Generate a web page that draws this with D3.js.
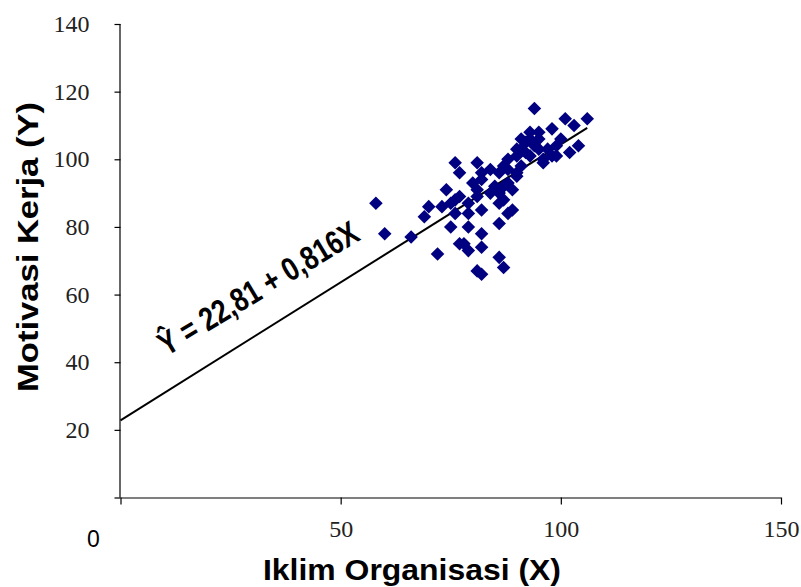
<!DOCTYPE html>
<html>
<head>
<meta charset="utf-8">
<script src="https://cdn.jsdelivr.net/npm/d3@7"></script>
<style>
  body { margin: 0; background: #fff; }
  svg { display: block; }
</style>
</head>
<body>
<script>
// data (Iklim Organisasi X, Motivasi Kerja Y)
var iklimX = [58, 60, 66, 70, 69, 72, 73, 74, 75, 76, 76, 77, 76, 77, 79, 79, 77, 75, 79, 82,
              78, 79, 82, 81, 82, 81, 84, 87, 85, 88, 90, 90, 91, 86, 88, 82, 86, 89, 86, 87,
              81, 82, 80, 82, 81, 84, 86, 87, 86, 87, 89, 90, 88, 88, 91, 93, 96, 98, 99, 90,
              95, 91, 95, 93, 94, 98, 100, 101, 103, 106, 104, 102, 99, 92, 94, 92, 93, 95, 97, 96];
var motivasiY = [87, 78, 77, 86, 83, 72, 86, 91, 80, 88, 84, 75, 99, 96, 84, 87, 89, 87, 80, 78,
                 75, 73, 74, 99, 96, 91, 97, 98, 92, 93, 96, 101, 103, 81, 84, 85, 87, 85, 71, 68,
                 67, 66, 93, 94, 89, 90, 90, 88, 96, 92, 91, 95, 100, 97, 98, 101, 99, 101, 104, 103,
                 103, 106, 106, 108, 115, 109, 106, 112, 110, 112, 104, 102, 101, 105, 104, 102, 106, 108, 103, 100];
var xTicks = [0, 50, 100, 150];
var yTicks = [0, 20, 40, 60, 80, 100, 120, 140];
var intercept = 22.81, slope = 0.816, lineEndX = 106;

var width = 801, height = 587;
var svg = d3.select("body").append("svg")
    .attr("width", width)
    .attr("height", height);

var x = d3.scaleLinear().domain([0, 150]).range([120.5, 781]);
var y = d3.scaleLinear().domain([0, 140]).range([497.5, 24]);

var serif = "Liberation Serif, Times New Roman, serif";
var sans = "Liberation Sans, Arial, sans-serif";

// axes
var xAxis = d3.axisBottom(x).tickValues(xTicks).tickSize(7).tickPadding(15)
    .tickFormat(function(d) { return d === 0 ? "" : d; });
var yAxis = d3.axisLeft(y).tickValues(yTicks).tickSize(6).tickPadding(25)
    .tickFormat(function(d) { return d === 0 ? "" : d; });

var gx = svg.append("g").attr("transform", "translate(0," + y(0) + ")").call(xAxis);
var gy = svg.append("g").attr("transform", "translate(" + x(0) + ",0)").call(yAxis);

gx.attr("font-family", serif).attr("font-size", 24);
gy.attr("font-family", serif).attr("font-size", 24);
gx.selectAll(".tick text").attr("fill", "#222");
gy.selectAll(".tick text").attr("fill", "#222");
gx.selectAll(".tick line").attr("stroke", "#000").attr("stroke-width", 1.2);
gy.selectAll(".tick line").attr("stroke", "#000").attr("stroke-width", 1.2);
// domains drawn without outer ticks
gx.select(".domain").attr("stroke-width", 1.2).attr("d", "M" + x(0) + ",0.5H" + x(150));
gy.select(".domain").attr("stroke-width", 1.2).attr("d", "M-0.5," + y(140) + "V" + y(0));

// the lone zero in the corner
svg.append("text")
    .attr("x", 93.5).attr("y", 547)
    .attr("text-anchor", "middle")
    .attr("font-family", sans).attr("font-size", 23)
    .text("0");

// axis titles
svg.append("text")
    .attr("x", 263).attr("y", 580)
    .attr("textLength", 298).attr("lengthAdjust", "spacingAndGlyphs")
    .attr("font-family", sans).attr("font-size", 29).attr("font-weight", "bold")
    .text("Iklim Organisasi (X)");

svg.append("text")
    .attr("transform", "translate(38,392) rotate(-90)")
    .attr("textLength", 290).attr("lengthAdjust", "spacingAndGlyphs")
    .attr("font-family", sans).attr("font-size", 29).attr("font-weight", "bold")
    .text("Motivasi Kerja (Y)");

// regression line
var line = d3.line().x(function(d) { return x(d); }).y(function(d) { return y(intercept + slope * d); });
svg.append("path")
    .datum([0, lineEndX])
    .attr("d", line)
    .attr("fill", "none")
    .attr("stroke", "#000")
    .attr("stroke-width", 2);

// points
var pts = iklimX.map(function(v, i) { return { x: v, y: motivasiY[i] }; });
svg.append("g").selectAll("path")
    .data(pts)
    .enter()
    .append("path")
    .attr("d", d3.symbol().type(d3.symbolSquare).size(92))
    .attr("transform", function(d) { return "translate(" + x(d.x) + "," + y(d.y) + ") rotate(45)"; })
    .attr("fill", "#000080");

// equation label
svg.append("text")
    .attr("transform", "translate(264,298) rotate(-31) scale(0.8,1)")
    .attr("text-anchor", "middle")
    .attr("font-family", sans).attr("font-size", 33).attr("font-weight", "bold")
    .text("Ŷ = 22,81 + 0,816X");
</script>
</body>
</html>
